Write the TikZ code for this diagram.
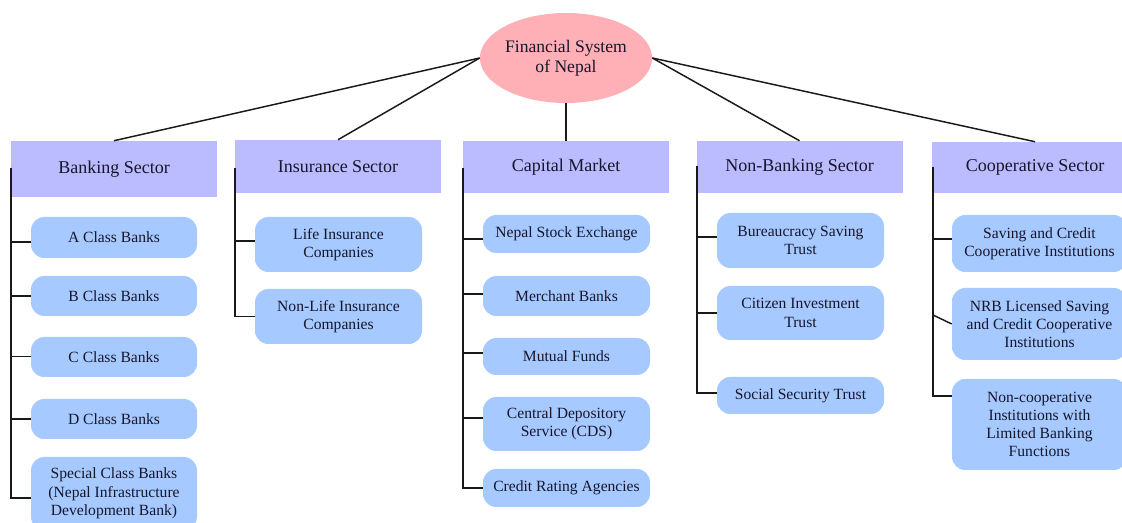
\documentclass[tikz,border=0pt]{standalone}
\usepackage{fontspec}
\setmainfont{Liberation Serif}
\newfontfamily\diagramfont{Liberation Serif}
\usetikzlibrary{shapes.geometric}
\definecolor{rootfill}{RGB}{255,176,182}
\definecolor{sectorfill}{RGB}{187,187,255}
\definecolor{itemfill}{RGB}{166,201,255}
\definecolor{inktext}{RGB}{22,22,44}
\definecolor{wire}{RGB}{25,25,25}
\tikzset{
  sz/.style 2 args={minimum width=#1*0.75pt, minimum height=#2*0.75pt},
  rootnode/.style={ellipse, fill=rootfill, inner sep=0pt, align=center,
    text=inktext, font=\diagramfont\fontsize{13.2}{15}\selectfont},
  sectorbox/.style={rectangle, fill=sectorfill, inner sep=0pt, align=center,
    text=inktext, font=\diagramfont\fontsize{13.5}{15}\selectfont},
  itembox/.style={rectangle, rounded corners=10pt, fill=itemfill, inner sep=0pt,
    align=center, text=inktext, font=\diagramfont\fontsize{11.7}{13.7}\selectfont},
  link/.style={draw=wire, line width=1.1pt},
}
\begin{document}
\begin{tikzpicture}[x=0.75pt, y=-0.75pt]
\clip (0,0) rectangle (1122,523);
\fill[white] (0,0) rectangle (1122,523);

% root
\node[rootnode, sz={168}{90}] (fs) at (566,58) {Financial System\\of Nepal};

% sectors
\node[sectorbox, sz={206}{56}] (bank) at (114,169)   {Banking Sector};
\node[sectorbox, sz={206}{53}] (ins)  at (338,166.5) {Insurance Sector};
\node[sectorbox, sz={206}{52}] (cap)  at (566,167)   {Capital Market};
\node[sectorbox, sz={206}{52}] (nb)   at (799.5,167) {Non-Banking Sector};
\node[sectorbox, sz={206}{51}] (coop) at (1035,167.5){Cooperative Sector};

% root to sectors
\draw[link] (fs.west) -- (bank.north);
\draw[link] (fs.west) -- (ins.north);
\draw[link] (fs.south) -- (cap.north);
\draw[link] (fs.east) -- (nb.north);
\draw[link] (fs.east) -- (coop.north);

% banking sector
\node[itembox, sz={166}{41}] (bA) at (114,237.5) {A Class Banks};
\node[itembox, sz={166}{40}] (bB) at (114,296)   {B Class Banks};
\node[itembox, sz={166}{40}] (bC) at (114,357)   {C Class Banks};
\node[itembox, sz={166}{40}] (bD) at (114,419)   {D Class Banks};
\node[itembox, sz={166}{73}] (bS) at (114,493.5) {Special Class Banks\\(Nepal Infrastructure\\Development Bank)};
\coordinate (bankspine) at (11,168);
\foreach \n/\s in {bA/-4.5, bB/0, bC/0.5, bD/0, bS/-4.5}
  \draw[link] (bankspine) |- ([yshift=\s*0.75pt]\n.west);

% insurance sector
\node[itembox, sz={167}{55}] (iL) at (338.5,244.5) {Life Insurance\\Companies};
\node[itembox, sz={167}{55}] (iN) at (338.5,316.5) {Non-Life Insurance\\Companies};
\coordinate (insspine) at (235,168);
\foreach \n/\s in {iL/3.5, iN/0}
  \draw[link] (insspine) |- ([yshift=\s*0.75pt]\n.west);

% capital market
\node[itembox, sz={167}{38}] (cN) at (566.5,234)   {Nepal Stock Exchange};
\node[itembox, sz={167}{40}] (cM) at (566.5,296)   {Merchant Banks};
\node[itembox, sz={167}{37}] (cF) at (566.5,356.5) {Mutual Funds};
\node[itembox, sz={167}{54}] (cD) at (566.5,424)   {Central Depository\\Service (CDS)};
\node[itembox, sz={167}{38}] (cR) at (566.5,488)   {Credit Rating Agencies};
\coordinate (capspine) at (463,168);
\foreach \n/\s in {cN/-5, cM/2, cF/3.5, cD/6, cR/0}
  \draw[link] (capspine) |- ([yshift=\s*0.75pt]\n.west);

% non-banking sector
\node[itembox, sz={167}{55}] (nB) at (800.5,240.5) {Bureaucracy Saving\\Trust};
\node[itembox, sz={167}{54}] (nC) at (800.5,313)   {Citizen Investment\\Trust};
\node[itembox, sz={167}{37}] (nS) at (800.5,395.5) {Social Security Trust};
\coordinate (nbspine) at (697,166);
\foreach \n/\s in {nB/3.5, nC/0, nS/2.5}
  \draw[link] (nbspine) |- ([yshift=\s*0.75pt]\n.west);

% cooperative sector
\node[itembox, sz={175}{57}] (oS) at (1039.5,243.5) {Saving and Credit\\Cooperative Institutions};
\node[itembox, sz={175}{72}] (oN) at (1039.5,324)   {NRB Licensed Saving\\and Credit Cooperative\\Institutions};
\node[itembox, sz={175}{91}] (oL) at (1039.5,424.5) {Non-cooperative\\Institutions with\\Limited Banking\\Functions};
\coordinate (coopspine) at (933,167);
\coordinate (coopknee) at (933,315);
\draw[link] (coopspine) |- ([yshift=4.5*0.75pt]oS.west);
\draw[link] (coopspine) |- ([yshift=28.5*0.75pt]oL.west);
\draw[link] (coopknee) -- (oN.west);
\end{tikzpicture}
\end{document}
